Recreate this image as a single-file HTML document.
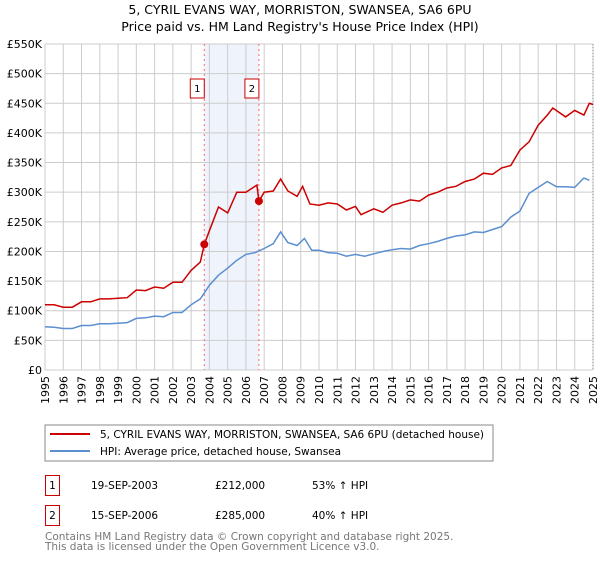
<!DOCTYPE html>
<html><head><meta charset="utf-8"><style>
body{margin:0;background:#fff;font-family:"DejaVu Sans","Liberation Sans",sans-serif;}
svg text{font-family:"DejaVu Sans","Liberation Sans",sans-serif;}
</style></head><body>
<svg id="c" width="600" height="560" xmlns="http://www.w3.org/2000/svg">
<text x="300" y="14" font-size="12.5" text-anchor="middle">5, CYRIL EVANS WAY, MORRISTON, SWANSEA, SA6 6PU</text>
<text x="300" y="31" font-size="12.5" text-anchor="middle">Price paid vs. HM Land Registry's House Price Index (HPI)</text>
<g id="grid"></g><g id="marks"></g>
<rect x="45" y="425" width="448" height="36" fill="#fff" stroke="#888"/>
<line x1="50" y1="434" x2="90" y2="434" stroke="#cc0000" stroke-width="2"/>
<text x="100" y="438" font-size="10.5">5, CYRIL EVANS WAY, MORRISTON, SWANSEA, SA6 6PU (detached house)</text>
<line x1="50" y1="451" x2="90" y2="451" stroke="#5b8fd0" stroke-width="2"/>
<text x="100" y="455" font-size="10.5">HPI: Average price, detached house, Swansea</text>
<g font-size="10.5">
<rect x="45.5" y="475.5" width="14" height="20" fill="none" stroke="#cc0000"/>
<text x="52.5" y="489" text-anchor="middle">1</text>
<text x="91" y="489">19-SEP-2003</text>
<text x="215" y="489">£212,000</text>
<text x="312" y="489">53% ↑ HPI</text>
<rect x="45.5" y="505.5" width="14" height="20" fill="none" stroke="#cc0000"/>
<text x="52.5" y="519" text-anchor="middle">2</text>
<text x="91" y="519">15-SEP-2006</text>
<text x="215" y="519">£285,000</text>
<text x="312" y="519">40% ↑ HPI</text>
</g>
<text x="45" y="540" font-size="10.5" fill="#777">Contains HM Land Registry data © Crown copyright and database right 2025.</text>
<text x="45" y="550" font-size="10.5" fill="#777">This data is licensed under the Open Government Licence v3.0.</text>
</svg>
<script>
const hpiYears=[1995,1995.5,1996,1996.5,1997,1997.5,1998,1998.5,1999,1999.5,2000,2000.5,2001,2001.5,2002,2002.5,2003,2003.5,2004,2004.5,2005,2005.5,2006,2006.5,2007,2007.5,2007.9,2008.3,2008.8,2009.2,2009.6,2010,2010.5,2011,2011.5,2012,2012.5,2013,2013.5,2014,2014.5,2015,2015.5,2016,2016.5,2017,2017.5,2018,2018.5,2019,2019.5,2020,2020.5,2021,2021.5,2022,2022.5,2023,2023.5,2024,2024.5,2024.8,2025];
const hpiValues=[73,72,70,70,75,75,78,78,79,80,87,88,91,90,97,97,110,120,143,160,172,185,195,198,205,213,233,215,210,222,202,202,198,197,192,195,192,196,200,203,205,204,210,213,217,222,226,228,233,232,237,242,258,268,298,308,318,309,309,308,324,320];
const priceYears=[1995,1995.5,1996,1996.5,1997,1997.5,1998,1998.5,1999,1999.5,2000,2000.5,2001,2001.5,2002,2002.5,2003,2003.5,2003.72,2004,2004.5,2005,2005.5,2006,2006.5,2006.6,2006.71,2007,2007.5,2007.9,2008.3,2008.8,2009.1,2009.5,2010,2010.5,2011,2011.5,2012,2012.3,2013,2013.5,2014,2014.5,2015,2015.5,2016,2016.5,2017,2017.5,2018,2018.5,2019,2019.5,2020,2020.5,2021,2021.5,2022,2022.5,2022.8,2023.5,2024,2024.5,2024.8,2025];
const priceValues=[110,110,106,106,115,115,120,120,121,122,135,134,140,138,148,148,168,182,212,235,275,265,300,300,310,312,285,300,302,322,302,293,310,280,278,282,280,270,276,262,272,266,278,282,287,285,295,300,307,310,318,322,332,330,341,345,371,385,413,430,442,427,438,430,450,448];
const sales=[{t:2003.72,v:212,label:"1"},{t:2006.71,v:285,label:"2"}];
const yTicks=[0,50,100,150,200,250,300,350,400,450,500,550];
const yTickLabels=["£0","£50K","£100K","£150K","£200K","£250K","£300K","£350K","£400K","£450K","£500K","£550K"];
const xTicks=[1995,1996,1997,1998,1999,2000,2001,2002,2003,2004,2005,2006,2007,2008,2009,2010,2011,2012,2013,2014,2015,2016,2017,2018,2019,2020,2021,2022,2023,2024,2025];
const X0=45,X1=593,Y0=370,Y1=44;
const x=t=>X0+(t-1995)/30*(X1-X0);
const y=v=>Y0-v/550*(Y0-Y1);
const NS="http://www.w3.org/2000/svg";
const grid=document.getElementById('grid'),marks=document.getElementById('marks');
function mk(tag,attrs,parent){const e=document.createElementNS(NS,tag);for(const k in attrs)e.setAttribute(k,attrs[k]);parent.appendChild(e);return e;}
const band=mk('rect',{x:x(sales[0].t),y:Y1,width:x(sales[1].t)-x(sales[0].t),height:Y0-Y1,fill:'#eef3fc'},grid);


yTicks.forEach((v,i)=>{
 const l=mk('line',{x1:X0,x2:X1,y1:y(v),y2:y(v),stroke:'#cccccc'},grid);
 
 
 const t=mk('text',{x:X0-3,y:y(v)+4,'font-size':'11','text-anchor':'end'},grid);
 t.textContent=yTickLabels[i];
 
 
});
xTicks.forEach(yr=>{
 const l=mk('line',{x1:x(yr),x2:x(yr),y1:Y1,y2:Y0,stroke:'#cccccc'},grid);
 
 
 const t=mk('text',{x:0,y:0,'font-size':'11','text-anchor':'end',transform:`translate(${x(yr)+4},376) rotate(-90)`},grid);
 t.textContent=yr;
 
 
});
const edge=mk('line',{x1:X1,x2:X1,y1:Y1,y2:Y0,stroke:'#888','stroke-dasharray':'1,2'},grid);


sales.forEach(s=>{
 const l=mk('line',{x1:x(s.t),x2:x(s.t),y1:Y1,y2:Y0,stroke:'#ff6666','stroke-dasharray':'2,3'},marks);
 
 
 const r=mk('rect',{x:x(s.t)-14,y:79,width:14,height:19,fill:'#fff',stroke:'#cc0000'},marks);
 
 
 const t=mk('text',{x:x(s.t)-7,y:92,'font-size':'10','text-anchor':'middle'},marks);
 t.textContent=s.label;
 
 
});
const hp=mk('path',{d:hpiYears.map((t,i)=>(i?'L':'M')+x(t).toFixed(1)+','+y(hpiValues[i]).toFixed(1)).join(''),fill:'none',stroke:'#5b8fd0','stroke-width':'1.5'},marks);


const pp=mk('path',{d:priceYears.map((t,i)=>(i?'L':'M')+x(t).toFixed(1)+','+y(priceValues[i]).toFixed(1)).join(''),fill:'none',stroke:'#cc0000','stroke-width':'1.5'},marks);


sales.forEach(s=>{
 const c=mk('circle',{cx:x(s.t),cy:y(s.v),r:4,fill:'#cc0000'},marks);
 
 
});
</script>
</body></html>
